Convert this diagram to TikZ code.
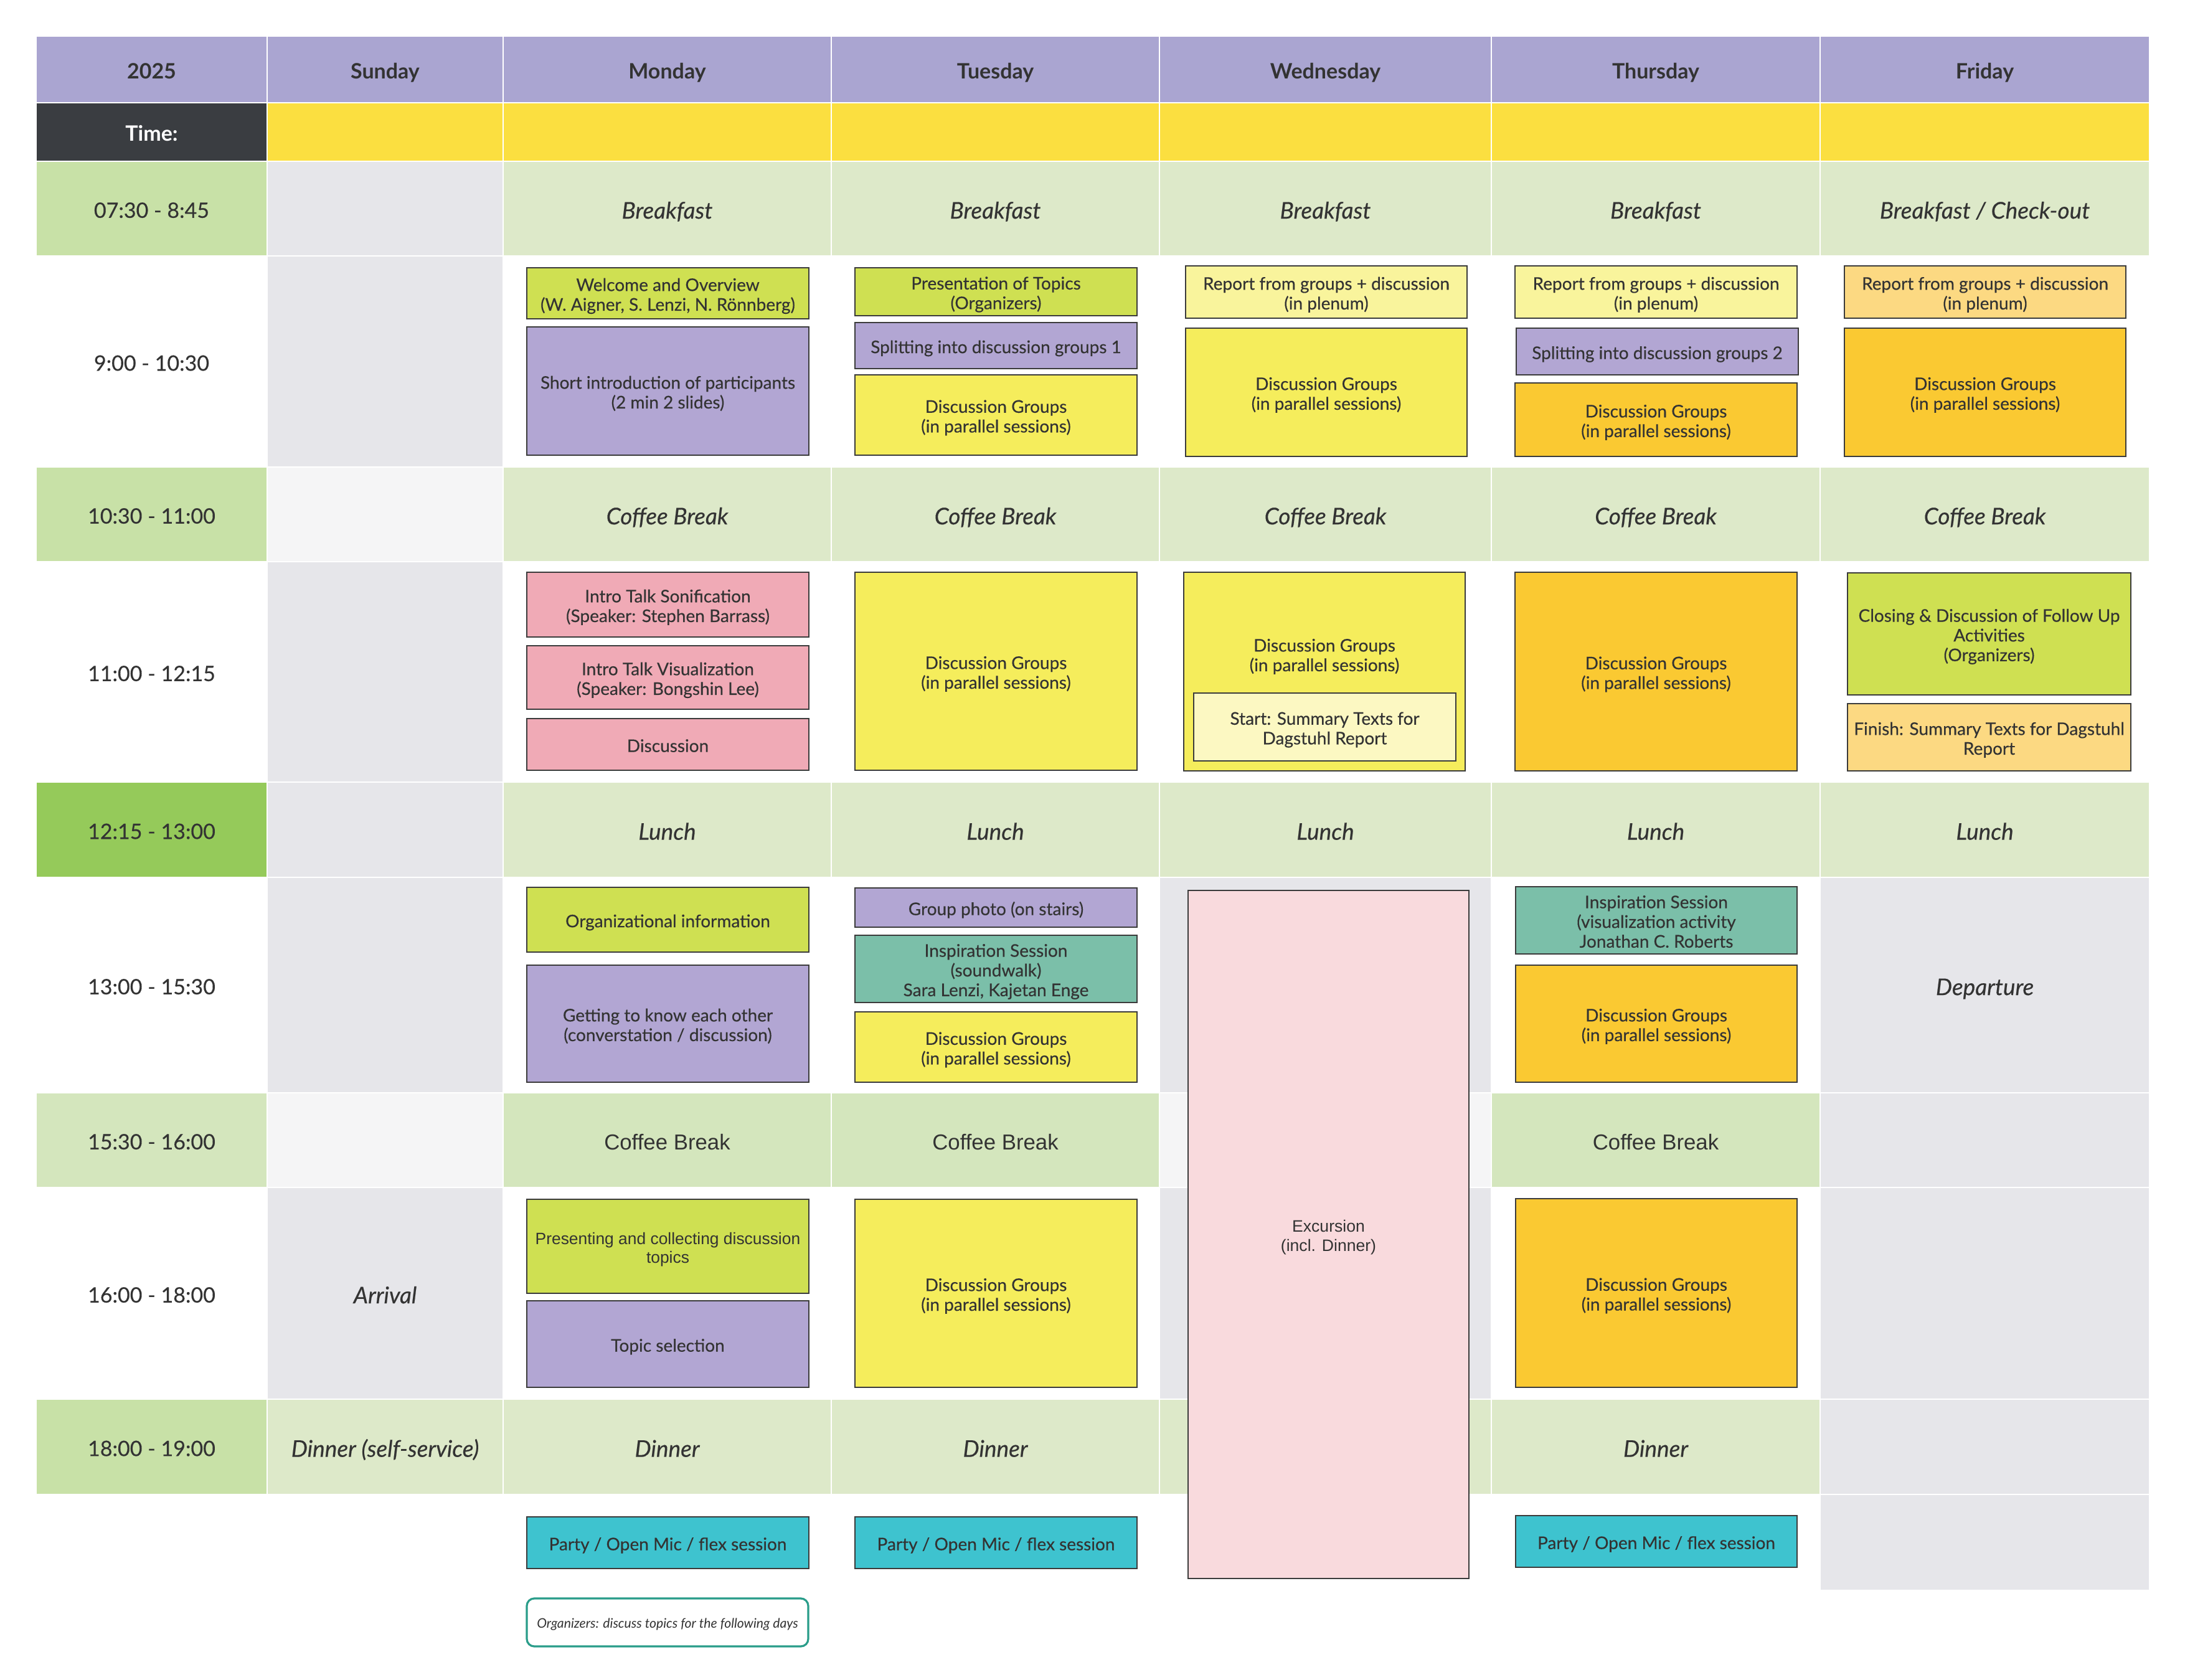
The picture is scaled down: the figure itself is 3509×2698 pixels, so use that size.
\documentclass[tikz,border=0pt]{standalone}
\usepackage{fontspec}
\setmainfont{Lato}
\newfontfamily\medfont{Lato}[FakeBold=0.35]
\newfontfamily\arialfont{Liberation Sans}
\definecolor{hdrc}{HTML}{AAA5D1}
\definecolor{darkc}{HTML}{3A3D41}
\definecolor{yelc}{HTML}{FBDF40}
\definecolor{tgc}{HTML}{C8E1A7}
\definecolor{lunchc}{HTML}{95CA5A}
\definecolor{cof2c}{HTML}{D4E6BD}
\definecolor{mealc}{HTML}{DDE9C9}
\definecolor{grayc}{HTML}{E6E6EA}
\definecolor{lgrayc}{HTML}{F5F5F6}
\definecolor{txtc}{HTML}{333333}
\definecolor{linec}{HTML}{3B3B3B}
\definecolor{limec}{HTML}{CFE052}
\definecolor{lavc}{HTML}{B2A6D3}
\definecolor{pinkc}{HTML}{F0AAB6}
\definecolor{yboxc}{HTML}{F5ED5C}
\definecolor{lyc}{HTML}{F9F49C}
\definecolor{pyc}{HTML}{FCF8C2}
\definecolor{orc}{HTML}{FAC932}
\definecolor{lorc}{HTML}{FCD982}
\definecolor{tealc}{HTML}{7BBFA9}
\definecolor{cyanc}{HTML}{3EC3CF}
\definecolor{excc}{HTML}{F9DADD}
\definecolor{notec}{HTML}{2A9D8A}
\newcommand\topstrut{\rule{0pt}{1.13em}}
\newcommand\botstrut{\rule[-0.26em]{0pt}{0.26em}}
\newcommand\cellat[7]{\node (#1) [cellbase,#6,minimum width={(#4-#2)*0.5pt},minimum height={(#5-#3)*0.5pt}] at ({(#2+#4)/2},{(#3+#5)/2}) {\topstrut#7\botstrut};}
\newcommand\boxat[7]{\node (#1) [boxbase,#6,minimum width={(#4-#2)*0.5pt},minimum height={(#5-#3)*0.5pt}] at ({(#2+#4)/2},{(#3+#5)/2}) {\topstrut#7\botstrut};}
\tikzset{
  cellbase/.style={draw=white,line width=1pt,inner sep=0pt,outer sep=0pt,align=center,text=txtc},
  hdr/.style={fill=hdrc,font={\fontsize{17}{20}\selectfont\bfseries}},
  darkcell/.style={fill=darkc,text=white,font={\fontsize{17}{20}\selectfont\bfseries}},
  yelcell/.style={fill=yelc},
  timefont/.style={font={\medfont\fontsize{17}{20}\selectfont}},
  tg/.style={fill=tgc,timefont},
  tl/.style={fill=lunchc,timefont},
  tc/.style={fill=cof2c,timefont},
  tw/.style={fill=white,timefont},
  meal/.style={fill=mealc,font={\medfont\fontsize{18.5}{21}\selectfont\itshape}},
  graycell/.style={fill=grayc,font={\medfont\fontsize{18.5}{21}\selectfont\itshape}},
  lgraycell/.style={fill=lgrayc},
  wcell/.style={fill=white},
  cof2/.style={fill=cof2c,font={\arialfont\fontsize{17.4}{20}\selectfont}},
  boxbase/.style={draw=linec,line width=1.4pt,inner sep=0pt,align=center,text=txtc,font={\medfont\fontsize{14}{15.8}\selectfont}},
  lime/.style={fill=limec},
  lav/.style={fill=lavc},
  pinkb/.style={fill=pinkc},
  yb/.style={fill=yboxc},
  lyb/.style={fill=lyc},
  pyb/.style={fill=pyc},
  orb/.style={fill=orc},
  lorb/.style={fill=lorc},
  tealb/.style={fill=tealc},
  cyanb/.style={fill=cyanc},
  arialtext/.style={font={\arialfont\fontsize{13.3}{15.6}\selectfont}},
  notebox/.style={draw=notec,line width=1.6pt,rounded corners=6pt,fill=white,inner sep=0pt,text=txtc,font={\fontsize{10.6}{12}\selectfont\itshape}}
}
\begin{document}
\begin{tikzpicture}[x=0.5pt,y=-0.5pt]
\useasboundingbox (0,0) rectangle (3509,2698);
\fill[white] (0,0) rectangle (3509,2698);
% header
\cellat{h0}{58}{58}{429}{165}{hdr}{2025}
\cellat{h1}{429}{58}{808}{165}{hdr}{Sunday}
\cellat{h2}{808}{58}{1335}{165}{hdr}{Monday}
\cellat{h3}{1335}{58}{1862}{165}{hdr}{Tuesday}
\cellat{h4}{1862}{58}{2395}{165}{hdr}{Wednesday}
\cellat{h5}{2395}{58}{2923}{165}{hdr}{Thursday}
\cellat{h6}{2923}{58}{3452}{165}{hdr}{Friday}
% time row
\cellat{t0}{58}{165}{429}{259}{darkcell}{Time:}
\cellat{t1}{429}{165}{808}{259}{yelcell}{}
\cellat{t2}{808}{165}{1335}{259}{yelcell}{}
\cellat{t3}{1335}{165}{1862}{259}{yelcell}{}
\cellat{t4}{1862}{165}{2395}{259}{yelcell}{}
\cellat{t5}{2395}{165}{2923}{259}{yelcell}{}
\cellat{t6}{2923}{165}{3452}{259}{yelcell}{}
% breakfast
\cellat{a0}{58}{259}{429}{411}{tg}{07:30 - 8:45}
\cellat{a1}{429}{259}{808}{411}{graycell}{}
\cellat{a2}{808}{259}{1335}{411}{meal}{Breakfast}
\cellat{a3}{1335}{259}{1862}{411}{meal}{Breakfast}
\cellat{a4}{1862}{259}{2395}{411}{meal}{Breakfast}
\cellat{a5}{2395}{259}{2923}{411}{meal}{Breakfast}
\cellat{a6}{2923}{259}{3452}{411}{meal}{Breakfast / Check-out}
% 9:00
\cellat{b0}{58}{411}{429}{750}{tw}{9:00 - 10:30}
\cellat{b1}{429}{411}{808}{750}{graycell}{}
\cellat{b2}{808}{411}{1335}{750}{wcell}{}
\cellat{b3}{1335}{411}{1862}{750}{wcell}{}
\cellat{b4}{1862}{411}{2395}{750}{wcell}{}
\cellat{b5}{2395}{411}{2923}{750}{wcell}{}
\cellat{b6}{2923}{411}{3452}{750}{wcell}{}
% coffee
\cellat{c0}{58}{750}{429}{902}{tg}{10:30 - 11:00}
\cellat{c1}{429}{750}{808}{902}{lgraycell}{}
\cellat{c2}{808}{750}{1335}{902}{meal}{Coffee Break}
\cellat{c3}{1335}{750}{1862}{902}{meal}{Coffee Break}
\cellat{c4}{1862}{750}{2395}{902}{meal}{Coffee Break}
\cellat{c5}{2395}{750}{2923}{902}{meal}{Coffee Break}
\cellat{c6}{2923}{750}{3452}{902}{meal}{Coffee Break}
% 11:00
\cellat{d0}{58}{902}{429}{1256}{tw}{11:00 - 12:15}
\cellat{d1}{429}{902}{808}{1256}{graycell}{}
\cellat{d2}{808}{902}{1335}{1256}{wcell}{}
\cellat{d3}{1335}{902}{1862}{1256}{wcell}{}
\cellat{d4}{1862}{902}{2395}{1256}{wcell}{}
\cellat{d5}{2395}{902}{2923}{1256}{wcell}{}
\cellat{d6}{2923}{902}{3452}{1256}{wcell}{}
% lunch
\cellat{e0}{58}{1256}{429}{1409}{tl}{12:15 - 13:00}
\cellat{e1}{429}{1256}{808}{1409}{graycell}{}
\cellat{e2}{808}{1256}{1335}{1409}{meal}{Lunch}
\cellat{e3}{1335}{1256}{1862}{1409}{meal}{Lunch}
\cellat{e4}{1862}{1256}{2395}{1409}{meal}{Lunch}
\cellat{e5}{2395}{1256}{2923}{1409}{meal}{Lunch}
\cellat{e6}{2923}{1256}{3452}{1409}{meal}{Lunch}
% 13:00
\cellat{f0}{58}{1409}{429}{1755}{tw}{13:00 - 15:30}
\cellat{f1}{429}{1409}{808}{1755}{graycell}{}
\cellat{f2}{808}{1409}{1335}{1755}{wcell}{}
\cellat{f3}{1335}{1409}{1862}{1755}{wcell}{}
\cellat{f4}{1862}{1409}{2395}{1755}{graycell}{}
\cellat{f5}{2395}{1409}{2923}{1755}{wcell}{}
\cellat{f6}{2923}{1409}{3452}{1755}{graycell}{Departure}
% coffee 2
\cellat{g0}{58}{1755}{429}{1907}{tc}{15:30 - 16:00}
\cellat{g1}{429}{1755}{808}{1907}{lgraycell}{}
\cellat{g2}{808}{1755}{1335}{1907}{cof2}{Coffee Break}
\cellat{g3}{1335}{1755}{1862}{1907}{cof2}{Coffee Break}
\cellat{g4}{1862}{1755}{2395}{1907}{lgraycell}{}
\cellat{g5}{2395}{1755}{2923}{1907}{cof2}{Coffee Break}
\cellat{g6}{2923}{1755}{3452}{1907}{graycell}{}
% 16:00
\cellat{k0}{58}{1907}{429}{2247}{tw}{16:00 - 18:00}
\cellat{k1}{429}{1907}{808}{2247}{graycell}{Arrival}
\cellat{k2}{808}{1907}{1335}{2247}{wcell}{}
\cellat{k3}{1335}{1907}{1862}{2247}{wcell}{}
\cellat{k4}{1862}{1907}{2395}{2247}{graycell}{}
\cellat{k5}{2395}{1907}{2923}{2247}{wcell}{}
\cellat{k6}{2923}{1907}{3452}{2247}{graycell}{}
% dinner
\cellat{m0}{58}{2247}{429}{2400}{tg}{18:00 - 19:00}
\cellat{m1}{429}{2247}{808}{2400}{meal}{Dinner (self-service)}
\cellat{m2}{808}{2247}{1335}{2400}{meal}{Dinner}
\cellat{m3}{1335}{2247}{1862}{2400}{meal}{Dinner}
\cellat{m4}{1862}{2247}{2395}{2400}{meal}{}
\cellat{m5}{2395}{2247}{2923}{2400}{meal}{Dinner}
\cellat{m6}{2923}{2247}{3452}{2400}{graycell}{}
% evening
\cellat{n0}{58}{2400}{429}{2554}{wcell}{}
\cellat{n1}{429}{2400}{808}{2554}{wcell}{}
\cellat{n2}{808}{2400}{1335}{2554}{wcell}{}
\cellat{n3}{1335}{2400}{1862}{2554}{wcell}{}
\cellat{n4}{1862}{2400}{2395}{2554}{wcell}{}
\cellat{n5}{2395}{2400}{2923}{2554}{wcell}{}
\cellat{n6}{2923}{2400}{3452}{2554}{graycell}{}
% Monday boxes
\boxat{mo1}{846}{430}{1299}{512}{lime}{Welcome and Overview\\(W. Aigner, S. Lenzi, N. Rönnberg)}
\boxat{mo2}{846}{525}{1299}{731}{lav}{Short introduction of participants\\(2 min 2 slides)}
\boxat{mo3}{846}{919}{1299}{1023}{pinkb}{Intro Talk Sonification\\(Speaker: Stephen Barrass)}
\boxat{mo4}{846}{1037}{1299}{1139}{pinkb}{Intro Talk Visualization\\(Speaker: Bongshin Lee)}
\boxat{mo5}{846}{1154}{1299}{1237}{pinkb}{Discussion}
\boxat{mo6}{846}{1425}{1299}{1529}{lime}{Organizational information}
\boxat{mo7}{846}{1550}{1299}{1738}{lav}{Getting to know each other\\(converstation / discussion)}
\boxat{mo8}{846}{1926}{1299}{2077}{lime,font={\arialfont\fontsize{13.2}{15}\selectfont}}{Presenting and collecting discussion\\topics}
\boxat{mo9}{846}{2089}{1299}{2228}{lav}{Topic selection}
\boxat{mo10}{846}{2436}{1299}{2519}{cyanb}{Party / Open Mic / flex session}
\node (note) [notebox,minimum width={(1298-846)*0.5pt},minimum height={(2644-2567)*0.5pt}] at ({(846+1298)/2},{(2567+2644)/2}) {\topstrut Organizers: discuss topics for the following days\botstrut};
% Tuesday boxes
\boxat{tu1}{1373}{430}{1826}{507}{lime}{Presentation of Topics\\(Organizers)}
\boxat{tu2}{1373}{518}{1826}{592}{lav}{Splitting into discussion groups 1}
\boxat{tu3}{1373}{602}{1826}{731}{yb}{Discussion Groups\\(in parallel sessions)}
\boxat{tu4}{1373}{919}{1826}{1237}{yb}{Discussion Groups\\(in parallel sessions)}
\boxat{tu5}{1373}{1426}{1826}{1489}{lav}{Group photo (on stairs)}
\boxat{tu6}{1373}{1502}{1826}{1610}{tealb}{Inspiration Session\\(soundwalk)\\Sara Lenzi, Kajetan Enge}
\boxat{tu7}{1373}{1625}{1826}{1738}{yb}{Discussion Groups\\(in parallel sessions)}
\boxat{tu8}{1373}{1926}{1826}{2228}{yb}{Discussion Groups\\(in parallel sessions)}
\boxat{tu9}{1373}{2436}{1826}{2519}{cyanb}{Party / Open Mic / flex session}
% Wednesday boxes
\boxat{we1}{1904}{427}{2356}{511}{lyb}{Report from groups + discussion\\(in plenum)}
\boxat{we2}{1904}{527}{2356}{733}{yb}{Discussion Groups\\(in parallel sessions)}
\boxat{we3}{1901}{919}{2353}{1238}{yb}{}
\node (we3t) [align=center,inner sep=0pt,text=txtc,font={\medfont\fontsize{14}{15.8}\selectfont}] at (2127,1050) {\topstrut Discussion Groups\\(in parallel sessions)\botstrut};
\boxat{we4}{1917}{1113}{2338}{1222}{pyb}{Start: Summary Texts for\\Dagstuhl Report}
\boxat{we5}{1908}{1430}{2359}{2535}{fill=excc,arialtext}{Excursion\\(incl. Dinner)}
% Thursday boxes
\boxat{th1}{2433}{427}{2886}{511}{lyb}{Report from groups + discussion\\(in plenum)}
\boxat{th2}{2435}{527}{2888}{602}{lav}{Splitting into discussion groups 2}
\boxat{th3}{2433}{615}{2886}{733}{orb}{Discussion Groups\\(in parallel sessions)}
\boxat{th4}{2433}{919}{2886}{1238}{orb}{Discussion Groups\\(in parallel sessions)}
\boxat{th5}{2434}{1424}{2886}{1532}{tealb}{Inspiration Session\\(visualization activity\\Jonathan C. Roberts}
\boxat{th6}{2434}{1550}{2886}{1738}{orb}{Discussion Groups\\(in parallel sessions)}
\boxat{th7}{2434}{1925}{2886}{2228}{orb}{Discussion Groups\\(in parallel sessions)}
\boxat{th8}{2434}{2434}{2886}{2517}{cyanb}{Party / Open Mic / flex session}
% Friday boxes
\boxat{fr1}{2962}{427}{3414}{511}{lorb}{Report from groups + discussion\\(in plenum)}
\boxat{fr2}{2962}{527}{3414}{733}{orb}{Discussion Groups\\(in parallel sessions)}
\boxat{fr3}{2967}{920}{3422}{1116}{lime}{Closing \& Discussion of Follow Up\\Activities\\(Organizers)}
\boxat{fr4}{2967}{1130}{3422}{1238}{lorb}{Finish: Summary Texts for Dagstuhl\\Report}
\end{tikzpicture}
\end{document}
